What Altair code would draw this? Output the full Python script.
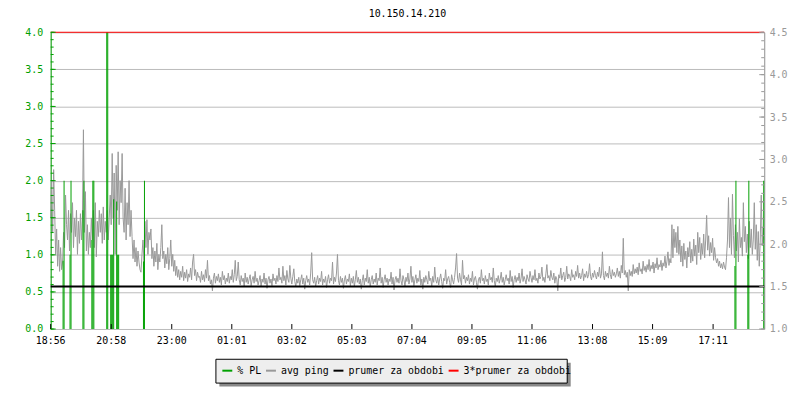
import altair as alt
import pandas as pd
import numpy as np

MONO = "DejaVu Sans Mono"
title_text = "10.150.14.210"

series_names = ["% PL", "avg ping", "prumer za obdobi", "3*prumer za obdobi"]
series_colors = ["#00a000", "#999999", "#000000", "#ff0000"]

start_label = "18:56"
x_tick_labels = ["18:56", "20:58", "23:00", "01:01", "03:02", "05:03",
                 "07:04", "09:05", "11:06", "13:08", "15:09", "17:11"]
span_minutes = 1438
sample_step_min = 2  # one ping sample every 2 minutes

left_major = [0.0, 0.5, 1.0, 1.5, 2.0, 2.5, 3.0, 3.5, 4.0]
right_major = [1.0, 1.5, 2.0, 2.5, 3.0, 3.5, 4.0, 4.5]

# avg ping [ms] (right axis)
ping_evening = [
    2.31, 2.75, 2.14, 2.88, 2.40, 1.88, 2.18, 1.74, 2.05, 1.68, 1.96, 1.70,
    1.79, 2.14, 1.96, 2.58, 2.23,
    2.05, 2.40, 1.92, 2.36, 2.14, 2.49, 1.96, 2.31, 2.09, 2.40, 1.88, 2.27, 2.01, 2.36, 2.05,
    2.31, 3.35, 2.14, 2.62, 1.92, 2.23, 1.88, 2.14, 1.96, 2.31,
    2.05, 2.40, 1.96, 2.49, 1.85, 2.27, 2.09, 2.40,
    2.14, 2.36, 2.01, 2.44, 2.05, 2.27, 2.14, 2.40, 2.05, 2.31, 2.58, 2.23,
    3.07, 2.31, 2.84, 1.88, 2.93, 2.40, 3.09, 2.23, 2.75, 2.49, 3.07, 2.31,
    2.14, 2.66, 2.05, 2.49, 2.23, 2.75, 2.09, 2.40,
    2.09, 1.83, 2.05, 1.79, 1.96, 1.74, 1.92, 1.79, 1.70, 1.67,
    1.88, 2.05, 1.79, 2.27, 1.96, 2.29, 1.88, 2.14,
    2.05, 2.18, 1.83, 1.96, 1.74, 1.92, 1.79, 2.01, 1.70, 1.88,
    1.79, 1.96, 2.23, 1.83, 1.92, 1.72, 1.88, 1.77, 1.96, 1.70,
    1.83, 2.05, 1.74, 1.88, 1.68, 1.81, 1.63, 1.74, 1.61, 1.70,
    1.58, 1.68, 1.61, 1.74, 1.57, 1.67, 1.60, 1.70, 1.56, 1.65,
    1.61, 1.72, 1.58, 1.79, 1.88, 1.63, 1.70, 1.57, 1.67, 1.61]
ping_night = [
    1.62, 1.55, 1.68, 1.58, 1.64, 1.56, 1.70, 1.60, 1.81, 1.57,
    1.63, 1.53, 1.58, 1.45, 1.60, 1.66, 1.54, 1.62, 1.57, 1.65,
    1.55, 1.61, 1.52, 1.68, 1.58, 1.63, 1.53, 1.60, 1.56, 1.66,
    1.54, 1.62, 1.58, 1.70, 1.55, 1.64, 1.81, 1.57, 1.62, 1.79,
    1.58, 1.52, 1.63, 1.56, 1.60, 1.50, 1.66, 1.55, 1.61, 1.53,
    1.59, 1.64, 1.51, 1.58, 1.62, 1.54, 1.68, 1.56, 1.60, 1.52,
    1.57, 1.63, 1.50, 1.59, 1.55, 1.66, 1.53, 1.60, 1.48, 1.58,
    1.62, 1.54, 1.59, 1.51, 1.65, 1.57, 1.60, 1.53, 1.63, 1.56,
    1.72, 1.58, 1.61, 1.54, 1.74, 1.57, 1.63, 1.52, 1.69, 1.59,
    1.55, 1.75, 1.60, 1.53, 1.62, 1.71, 1.56, 1.50, 1.59, 1.54,
    1.61, 1.51, 1.58, 1.64, 1.53, 1.60, 1.47, 1.57, 1.63, 1.55,
    1.59, 1.52, 1.66, 1.90, 1.58, 1.54, 1.61, 1.50, 1.57, 1.63,
    1.53, 1.60, 1.56, 1.68, 1.52, 1.59, 1.55, 1.62, 1.49, 1.58,
    1.64, 1.54, 1.60, 1.57, 1.79, 1.53, 1.61, 1.56, 1.66, 1.88,
    1.57, 1.52, 1.62, 1.55, 1.60, 1.48, 1.58, 1.63, 1.53, 1.59,
    1.56, 1.65, 1.51, 1.60, 1.54, 1.62, 1.50, 1.58, 1.69, 1.55,
    1.61, 1.53, 1.59, 1.47, 1.57, 1.64, 1.52, 1.60, 1.56, 1.70,
    1.54, 1.61, 1.50, 1.58, 1.63, 1.53, 1.59, 1.55, 1.66, 1.52,
    1.60, 1.57, 1.72, 1.54, 1.61, 1.49, 1.58, 1.64, 1.55, 1.60,
    1.52, 1.59, 1.56, 1.67, 1.53, 1.61, 1.46, 1.58, 1.62, 1.55,
    1.60, 1.54, 1.71, 1.57, 1.52, 1.63, 1.58, 1.50, 1.61, 1.56,
    1.66, 1.53, 1.59, 1.74, 1.55, 1.62, 1.51, 1.58, 1.64, 1.54,
    1.60, 1.56, 1.69, 1.52, 1.59, 1.47, 1.61, 1.55, 1.63, 1.58,
    1.53, 1.68, 1.57, 1.60, 1.50, 1.62, 1.55, 1.73, 1.58, 1.54,
    1.61, 1.52, 1.59, 1.65, 1.56, 1.48, 1.60, 1.57, 1.70, 1.53,
    1.59, 1.62, 1.55, 1.49, 1.64, 1.58, 1.53, 1.61, 1.72, 1.89]
ping_morning = [
    1.60, 1.55, 1.66, 1.58, 1.52, 1.81, 1.59, 1.63, 1.54, 1.61,
    1.57, 1.64, 1.53, 1.60, 1.56, 1.68, 1.52, 1.59, 1.62, 1.55,
    1.47, 1.58, 1.61, 1.54, 1.70, 1.57, 1.60, 1.53, 1.63, 1.56,
    1.59, 1.52, 1.66, 1.58, 1.61, 1.55, 1.72, 1.57, 1.50, 1.60,
    1.56, 1.63, 1.54, 1.59, 1.67, 1.55, 1.61, 1.52, 1.58, 1.64,
    1.57, 1.60, 1.53, 1.69, 1.56, 1.62, 1.49, 1.58, 1.63, 1.55,
    1.61, 1.57, 1.66, 1.54, 1.60, 1.71, 1.56, 1.62, 1.58, 1.53,
    1.64, 1.59, 1.56, 1.68, 1.61, 1.55, 1.63, 1.58, 1.70, 1.57,
    1.60, 1.54, 1.66, 1.59, 1.62, 1.73, 1.57, 1.61, 1.55, 1.65,
    1.76, 1.60, 1.63, 1.57, 1.69, 1.61, 1.58, 1.66, 1.54, 1.62,
    1.59, 1.45, 1.64, 1.60, 1.72, 1.58, 1.63, 1.67, 1.56, 1.61,
    1.74, 1.59, 1.65, 1.62, 1.57, 1.70, 1.61, 1.64, 1.58, 1.68,
    1.62, 1.75, 1.60, 1.66, 1.59, 1.63, 1.71, 1.57, 1.65, 1.61,
    1.68, 1.60, 1.64, 1.77, 1.62, 1.58, 1.66, 1.61, 1.69, 1.63,
    1.59, 1.67, 1.62, 1.73, 1.60, 1.65, 1.91, 1.63, 1.58, 1.68,
    1.62, 1.66, 1.60, 1.74, 1.64, 1.59, 1.70, 1.63, 1.67, 1.61,
    1.65, 1.72, 1.62, 1.68, 1.60, 1.75, 1.66, 2.07, 1.64, 1.69,
    1.61, 1.67, 1.45, 1.70, 1.63, 1.68, 1.62, 1.76, 1.65, 1.71]
ping_afternoon = [
    1.66, 1.73, 1.64, 1.78, 1.68, 1.71, 1.65, 1.80, 1.69, 1.74,
    1.67, 1.76, 1.70, 1.82, 1.68, 1.75, 1.71, 1.79, 1.66, 1.77,
    1.72, 1.84, 1.70, 1.76, 1.73, 1.81, 1.69, 1.78, 1.74, 1.86,
    1.72, 1.80, 1.91, 1.75, 1.83, 1.78,
    2.23, 1.84, 2.18, 1.96, 2.14, 1.90, 2.21, 1.88, 2.05, 1.79,
    1.98, 1.74, 2.01, 1.82, 1.92, 1.72, 1.96, 1.85, 2.03, 1.78,
    1.94, 1.80, 2.06, 1.86, 1.99, 1.76, 2.14, 1.90, 2.08, 1.82,
    2.01, 1.88, 2.12, 1.84, 2.05, 2.34, 1.93, 2.10, 1.86, 2.02,
    1.90, 2.07, 1.81, 1.96, 1.84, 1.78, 1.83, 1.74, 1.80, 1.72,
    1.77, 1.71, 1.79, 1.73, 1.70, 1.84,
    2.05, 2.55, 1.96, 2.31, 1.88, 2.59, 2.10, 1.84, 2.23, 1.92,
    2.14, 1.79, 2.30, 1.96, 2.08, 1.86, 2.49, 2.03, 2.21, 1.90,
    2.12, 1.83, 2.27, 1.96, 2.18, 1.88, 2.05, 2.49, 1.94, 2.23,
    1.81, 2.15, 1.74, 2.05, 2.58, 1.98, 2.20, 2.05]
ping_ms = ping_evening + ping_night + ping_morning + ping_afternoon

# % packet loss samples: minute after start, value
pl_minutes = [24, 26, 38, 40, 64, 66, 82, 84, 86, 112, 114, 120, 122, 124, 126,
              132, 134, 136, 186, 188, 1378, 1380, 1404, 1406, 1436]
pl_values = [0.92, 2.0, 1.0, 2.0, 1.6, 2.0, 1.2, 2.0, 2.0, 4.0, 4.0, 1.0, 1.0, 1.0, 1.75,
             1.72, 1.0, 1.0, 0.91, 2.0, 0.85, 2.0, 1.0, 2.0, 2.0]

ping_mean = 1.5
ping_mean3 = 4.5

GREEN, GREY, BLACK, RED = series_colors


def to_min(lbl):
    h, m = map(int, lbl.split(":"))
    sh, sm = map(int, start_label.split(":"))
    return ((h * 60 + m) - (sh * 60 + sm)) % 1440


tick_minutes = [to_min(l) for l in x_tick_labels]

ping_df = pd.DataFrame({"minute": [i * sample_step_min for i in range(len(ping_ms))],
                        "ping": ping_ms})
pl_df = pd.DataFrame({"minute": pl_minutes,
                      "end": [m + 2 for m in pl_minutes],
                      "pl": pl_values})
xtick_df = pd.DataFrame({"m": tick_minutes, "label": x_tick_labels})

x_scale = alt.Scale(domain=[0, span_minutes], nice=False, zero=False)
left_scale = alt.Scale(domain=[0, 4], nice=False, zero=False)
right_scale = alt.Scale(domain=[1, 4.5], nice=False, zero=False)

ping_line = alt.Chart(ping_df).mark_line(color=GREY, strokeWidth=1).encode(
    x=alt.X("minute:Q", scale=x_scale,
            axis=alt.Axis(values=tick_minutes, labels=False, title=None,
                          ticks=False, tickSize=0, grid=False, domainColor=BLACK)),
    y=alt.Y("ping:Q", scale=right_scale,
            axis=alt.Axis(orient="right", values=right_major, format=".1f", title=None,
                          ticks=False, tickSize=0, grid=False, domainColor=GREY,
                          labelFont=MONO, labelFontSize=10, labelColor=GREY,
                          labelPadding=5)),
)

pl_bars = alt.Chart(pl_df).mark_rect(color=GREEN).encode(
    x=alt.X("minute:Q", scale=x_scale, axis=None),
    x2="end:Q",
    y=alt.Y("pl:Q", scale=left_scale,
            axis=alt.Axis(orient="left", values=left_major, format=".1f", title=None,
                          ticks=False, tickSize=0, grid=True, gridColor="#bbbbbb",
                          domainColor=GREEN, labelFont=MONO, labelFontSize=10,
                          labelColor=GREEN, labelPadding=8)),
    y2=alt.datum(0),
)

mean_rule = alt.Chart(pd.DataFrame({"v": [ping_mean]})).mark_rule(
    color=BLACK, strokeWidth=2).encode(y=alt.Y("v:Q", scale=right_scale, axis=None))
mean3_rule = alt.Chart(pd.DataFrame({"v": [ping_mean3]})).mark_rule(
    color=RED, strokeWidth=1).encode(y=alt.Y("v:Q", scale=right_scale, axis=None))

left_minor = [round(v, 1) for v in np.arange(0, 4.0001, 0.1)]
right_minor = [round(v, 1) for v in np.arange(1.0, 4.5001, 0.1)]

lt_minor = alt.Chart(pd.DataFrame({"v": left_minor})).mark_rule(color=GREEN).encode(
    y=alt.Y("v:Q", scale=left_scale, axis=None), x=alt.value(0), x2=alt.value(3))
lt_major = alt.Chart(pd.DataFrame({"v": left_major})).mark_rule(color=GREEN).encode(
    y=alt.Y("v:Q", scale=left_scale, axis=None), x=alt.value(0), x2=alt.value(5))
rt_minor = alt.Chart(pd.DataFrame({"v": right_minor})).mark_rule(color=GREY).encode(
    y=alt.Y("v:Q", scale=right_scale, axis=None), x=alt.value(719), x2=alt.value(716))
rt_major = alt.Chart(pd.DataFrame({"v": right_major})).mark_rule(color=GREY).encode(
    y=alt.Y("v:Q", scale=right_scale, axis=None), x=alt.value(719), x2=alt.value(714))
bt_ticks = alt.Chart(xtick_df).mark_rule(color=BLACK).encode(
    x=alt.X("m:Q", scale=x_scale, axis=None), y=alt.value(299), y2=alt.value(294))
bt_labels = alt.Chart(xtick_df).mark_text(
    font=MONO, fontSize=10, color=BLACK, align="center", baseline="alphabetic").encode(
    x=alt.X("m:Q", scale=x_scale, axis=None), y=alt.value(314), text="label:N")

shadow = alt.Chart(pd.DataFrame({"a": [0]})).mark_rect(color="#888888").encode(
    x=alt.value(170), x2=alt.value(524), y=alt.value(333), y2=alt.value(357))
legend_box = alt.Chart(pd.DataFrame({"a": [0]})).mark_rect(
    fill="#eeeeee", stroke=BLACK, strokeWidth=1).encode(
    x=alt.value(166.5), x2=alt.value(520.5), y=alt.value(329.5), y2=alt.value(353.5))

legend_layer = alt.Chart(pd.DataFrame({"series": series_names})).mark_line().encode(
    x=alt.value(0), y=alt.value(0),
    color=alt.Color("series:N",
                    scale=alt.Scale(domain=series_names, range=series_colors),
                    legend=alt.Legend(orient="none", legendX=172, legendY=335,
                                      direction="horizontal", columns=4, title=None,
                                      padding=0,
                                      symbolType="stroke", symbolSize=100,
                                      symbolStrokeWidth=2, labelFont=MONO,
                                      labelFontSize=10, labelColor=BLACK,
                                      labelOffset=4, columnPadding=0, labelLimit=400)),
)

chart = alt.layer(
    ping_line, pl_bars, mean_rule, mean3_rule,
    lt_minor, lt_major, rt_minor, rt_major, bt_ticks, bt_labels,
    shadow, legend_box, legend_layer,
).resolve_scale(y="independent").properties(
    width=719, height=299,
    title=alt.TitleParams(title_text, font=MONO, fontSize=10, fontWeight="normal",
                          color=BLACK, anchor="middle", offset=8),
    autosize=alt.AutoSizeParams(type="none"),
    padding={"left": 43, "top": 23, "right": 28, "bottom": 58},
).configure_view(stroke=None).configure(background="white")

chart.save("out.html", embed_options={"renderer": "svg", "actions": False})
